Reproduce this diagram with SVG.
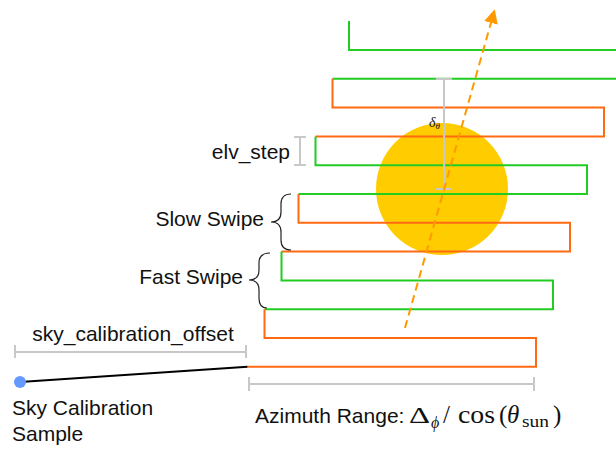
<svg xmlns="http://www.w3.org/2000/svg" width="616" height="449" viewBox="0 0 616 449">
<style>
.g{fill:none;stroke:#22cc22;stroke-width:2}
.o{fill:none;stroke:#ff6a13;stroke-width:2}
.bar{fill:none;stroke:#c8c8c8;stroke-width:2}
.brace{fill:none;stroke:#222;stroke-width:1.2}
.t{font-family:"Liberation Sans",Arial,sans-serif;font-size:21px;fill:#111}
.m{font-family:"Liberation Serif","DejaVu Serif",serif;fill:#111}
</style>
<defs>
<marker id="ah" viewBox="0 0 10 10" refX="8" refY="5" markerWidth="7" markerHeight="7" orient="auto" markerUnits="strokeWidth">
<path d="M0,0 L10,5 L0,10 z" fill="#ff9900"/>
</marker>
</defs>
<rect width="616" height="449" fill="#fff"/>
<g id="sun"><circle cx="442" cy="189" r="66" fill="#ffcc00"/></g>
<g id="connectors">
<path class="g" d="M349,21 V50 H621 V78.8 H332.5"/>
<path class="o" d="M332.5,78.8 V107.6 H604 V136.4 H315.5"/>
<path class="g" d="M315.5,136.4 V165.2 H587 V194 H298.5"/>
<path class="o" d="M298.5,194 V222.8 H570 V251.6 H281.5"/>
<path class="g" d="M281.5,251.6 V280.4 H553 V309.2 H264.5"/>
<path class="o" d="M264.5,309.2 V338 H536 V366.8 H247.5"/>
<path d="M20,382 L247.5,366.8" stroke="#000" stroke-width="2" fill="none"/>
<path class="bar" d="M444,79 V189 M436,79 H452 M436,189 H452"/>
<path d="M405,328 L494,12" stroke="#ff9900" stroke-width="2" stroke-dasharray="8,5" fill="none" marker-end="url(#ah)"/>
</g>
<g id="delta-theta"><text class="m" x="429" y="127" font-size="14" font-style="italic">δ<tspan font-size="9" dy="2">θ</tspan></text></g>
<g id="elv-step">
<path class="bar" d="M300,137 V165 M294,137 H306 M294,165 H306"/>
<text class="t" x="290" y="159" text-anchor="end">elv_step</text>
</g>
<g id="slow-swipe">
<path class="brace" d="M291,194 Q281,194 281,204 L281,212 Q281,222 271,222 Q281,222 281,232 L281,240 Q281,250 291,250"/>
<text class="t" x="264" y="226" text-anchor="end">Slow Swipe</text>
</g>
<g id="fast-swipe">
<path class="brace" d="M270,253 Q259,253 259,263 L259,270 Q259,280 249,280 Q259,280 259,290 L259,298 Q259,308 267,308"/>
<text class="t" x="243" y="284" text-anchor="end">Fast Swipe</text>
</g>
<g id="sky-offset">
<path class="bar" d="M15,352 H246 M15,345 V358 M246,345 V358"/>
<text class="t" x="133" y="341" text-anchor="middle">sky_calibration_offset</text>
</g>
<g id="sky-sample">
<circle cx="20" cy="382" r="6" fill="#6699ff"/>
<text class="t" x="12" y="415">Sky Calibration</text>
<text class="t" x="12" y="441">Sample</text>
</g>
<g id="azimuth">
<path class="bar" d="M249,384 H534 M249,377 V391 M534,377 V391"/>
<text class="t" x="255" y="423">Azimuth Range:</text>
<text class="m" x="409" y="423" font-size="24" textLength="21" lengthAdjust="spacingAndGlyphs">Δ</text>
<text class="m" x="431" y="428" font-size="16" font-style="italic">ϕ</text>
<text class="m" x="443" y="423" font-size="25">/</text>
<text class="m" x="458" y="423" font-size="25" textLength="37" lengthAdjust="spacingAndGlyphs">cos</text>
<text class="m" x="499" y="423" font-size="25">(</text>
<text class="m" x="507" y="423" font-size="25" font-style="italic">θ</text>
<text class="m" x="522" y="427" font-size="17" textLength="27" lengthAdjust="spacingAndGlyphs">sun</text>
<text class="m" x="553" y="423" font-size="25">)</text>
</g>
</svg>
